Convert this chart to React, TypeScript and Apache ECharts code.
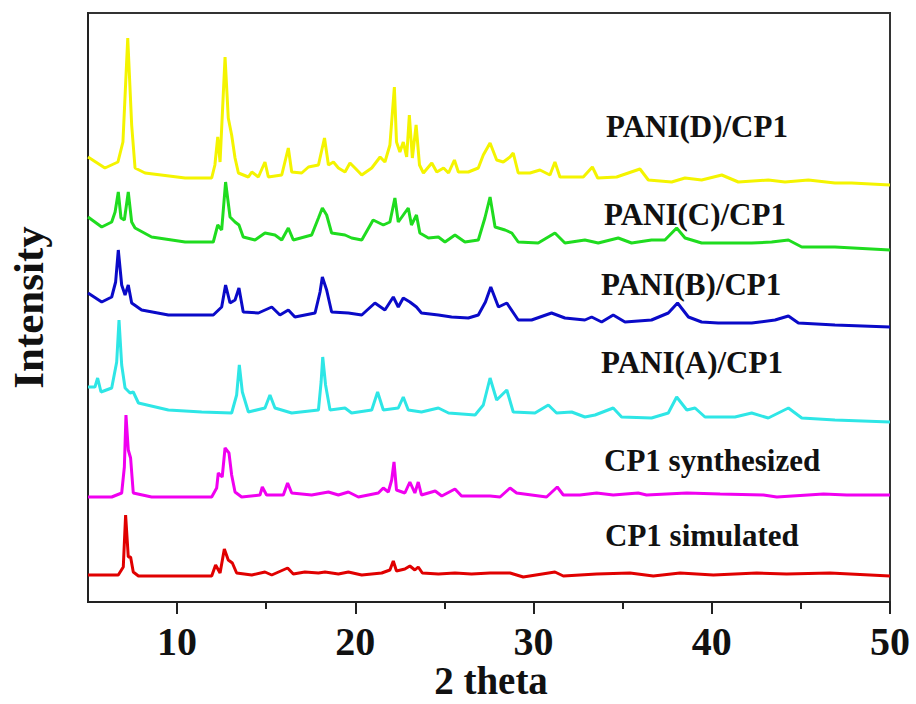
import React, { useEffect, useRef } from "react";
import * as echarts from "echarts";

const seriesNames = ["PANI(D)/CP1", "PANI(C)/CP1", "PANI(B)/CP1", "PANI(A)/CP1", "CP1 synthesized", "CP1 simulated"];
const seriesColors = ["#f4f400", "#1fdc1f", "#0a0ac8", "#2ee6e6", "#f000f0", "#e00000"];
const xTicks = [10, 20, 30, 40, 50];
const xTitle = "2 theta";
const yTitle = "Intensity";

const paniD = [
  [5.0,445],[5.95,434],[6.68,440],[6.96,460],[7.23,564],[7.45,477],[7.64,434],[8.2,429],[10.45,424],[11.94,424],[12.12,437],[12.28,465],[12.41,440],[12.69,545],[12.87,484],[13.06,467],[13.25,444],[13.44,429],[14.0,425],[14.19,430],[14.56,425],[14.93,440],[15.12,425],[15.87,427],[16.24,454],[16.43,430],[16.99,429],[17.37,435],[17.93,437],[18.27,464],[18.49,437],[18.77,440],[19.05,434],[19.42,430],[19.7,439],[19.98,434],[20.36,427],[20.92,434],[21.39,445],[21.66,440],[21.94,457],[22.19,515],[22.31,460],[22.5,450],[22.69,460],[22.88,445],[23.03,487],[23.2,444],[23.41,477],[23.6,437],[23.82,429],[24.29,439],[24.57,430],[24.95,434],[25.23,429],[25.56,442],[25.78,430],[26.34,430],[26.9,434],[27.18,447],[27.56,459],[27.93,442],[28.3,440],[28.68,445],[28.86,449],[29.14,429],[29.8,429],[30.36,432],[30.92,427],[31.2,440],[31.48,425],[32.79,425],[33.3,435],[33.6,424],[34.66,425],[35.97,433],[36.44,422],[37.75,420],[38.5,424],[39.43,422],[40.56,427],[41.49,420],[43.17,422],[44.11,420],[45.42,422],[46.91,419],[47.85,419],[50,417]
];
const paniC = [
  [5.0,385],[5.77,375],[6.33,380],[6.52,390],[6.7,410],[6.85,384],[7.04,382],[7.26,410],[7.45,380],[7.64,374],[8.57,365],[10.45,360],[12.03,360],[12.28,377],[12.5,372],[12.72,420],[12.97,385],[13.25,380],[13.47,377],[13.71,365],[14.37,362],[14.93,369],[15.49,367],[15.87,362],[16.24,374],[16.52,362],[17.55,367],[17.93,384],[18.15,394],[18.39,387],[18.67,369],[19.42,367],[19.79,364],[20.36,362],[21.0,382],[21.57,377],[21.94,380],[22.22,404],[22.41,380],[22.69,387],[22.97,394],[23.15,377],[23.43,387],[23.62,369],[24.1,364],[24.66,365],[25.03,360],[25.59,367],[26.15,360],[26.9,362],[27.27,384],[27.56,405],[27.84,375],[28.4,372],[28.78,369],[29.14,360],[30.26,359],[31.2,369],[31.76,359],[32.88,362],[33.63,359],[34.75,364],[35.5,359],[36.62,362],[37.37,362],[38.03,374],[38.5,364],[39.43,359],[40.75,359],[42.24,359],[43.36,360],[44.3,362],[45.05,355],[46.91,355],[50,352]
];
const paniB = [
  [5.0,309],[5.77,300],[6.33,305],[6.55,320],[6.7,352],[6.89,317],[7.08,307],[7.26,317],[7.45,299],[8.01,292],[9.51,287],[12.03,287],[12.5,295],[12.72,317],[12.97,299],[13.25,302],[13.47,314],[13.71,290],[14.56,289],[15.31,295],[15.77,287],[16.24,292],[16.61,285],[17.74,289],[18.02,310],[18.15,325],[18.39,312],[18.67,290],[19.61,289],[20.36,287],[21.1,299],[21.66,292],[22.13,305],[22.41,295],[22.69,304],[23.06,300],[23.43,295],[23.71,289],[24.66,287],[25.4,285],[26.34,284],[26.9,287],[27.3,300],[27.6,315],[28.03,295],[28.5,299],[29.14,282],[29.89,282],[31.01,289],[31.76,284],[32.88,282],[33.26,285],[33.82,280],[34.47,287],[35.13,280],[36.62,282],[37.56,289],[38.08,299],[38.69,285],[39.43,280],[40.36,279],[42.24,279],[43.55,282],[44.3,286],[44.86,279],[46.91,277],[50,275]
];
const paniA = [
  [5.0,215],[5.39,215],[5.54,224],[5.73,210],[6.33,214],[6.61,240],[6.74,282],[6.89,237],[7.08,214],[7.36,209],[7.54,210],[7.83,199],[9.51,192],[11.38,190],[13.06,189],[13.34,207],[13.49,237],[13.66,210],[14.0,190],[14.93,194],[15.21,207],[15.49,194],[16.43,189],[17.93,192],[18.08,220],[18.17,245],[18.33,217],[18.58,192],[19.42,194],[19.79,189],[20.92,192],[21.25,210],[21.57,192],[22.41,194],[22.69,205],[22.97,192],[23.71,190],[24.66,194],[25.23,189],[26.72,187],[27.18,197],[27.56,224],[27.93,202],[28.5,212],[28.86,190],[30.08,189],[30.83,197],[31.29,189],[32.14,190],[32.88,185],[33.45,187],[34.47,194],[34.94,185],[36.62,184],[37.56,189],[38.03,205],[38.6,192],[39.06,194],[39.62,185],[41.3,185],[42.24,189],[43.17,184],[44.3,194],[45.05,184],[46.91,182],[50,180]
];
const cp1Synth = [
  [5.0,105],[6.33,105],[6.89,109],[7.04,135],[7.13,187],[7.26,152],[7.39,144],[7.54,109],[8.57,105],[11.94,105],[12.22,114],[12.31,129],[12.53,125],[12.69,154],[12.91,149],[13.06,127],[13.25,110],[13.62,105],[14.65,107],[14.78,115],[15.02,107],[15.96,107],[16.2,119],[16.43,109],[17.55,107],[18.49,110],[19.05,107],[19.61,110],[20.17,105],[21.29,109],[21.57,114],[21.85,110],[22.04,122],[22.17,140],[22.31,112],[22.78,109],[23.06,120],[23.34,109],[23.53,120],[23.71,107],[24.48,111],[24.85,106],[25.59,113],[25.96,106],[27.56,106],[28.12,105],[28.68,114],[29.05,109],[30.73,105],[31.33,115],[31.67,107],[32.6,107],[33.54,109],[34.47,107],[35.87,109],[36.34,107],[38.6,109],[40.47,108],[42.9,107],[43.65,105],[46.27,108],[47.58,107],[50,107]
];
const cp1Sim = [
  [5.0,27],[6.7,27],[6.98,35],[7.11,87],[7.26,45],[7.39,45],[7.54,30],[7.83,26],[11.94,26],[12.16,37],[12.41,29],[12.65,53],[12.87,42],[13.1,39],[13.34,29],[14.19,27],[14.93,30],[15.31,27],[16.2,34],[16.52,28],[17.17,30],[17.93,29],[18.3,30],[19.05,28],[19.61,30],[20.36,27],[21.48,29],[21.94,32],[22.13,41],[22.31,31],[22.78,33],[23.06,36],[23.34,32],[23.53,35],[23.76,29],[24.66,28],[25.59,29],[26.52,28],[27.56,29],[28.68,29],[29.42,25],[31.2,30],[31.67,26],[33.54,28],[35.41,29],[36.72,26],[38.22,29],[40.09,27],[42.52,29],[44.2,28],[46.63,29],[50,26]
];

const allData = [paniD, paniC, paniB, paniA, cp1Synth, cp1Sim];
const labelPos = [
  [606, 126], [604, 214], [601, 284], [601, 362], [604, 460], [605, 535]
];

const FONT = '"Liberation Serif", "Times New Roman", serif';

export default function App() {
  const ref = useRef<HTMLDivElement>(null);
  useEffect(() => {
    document.body.style.margin = "0";
    const chart = echarts.init(ref.current!, null, { renderer: "svg" });
    const plotLeft = 88, plotRight = 26, plotW = 916 - plotLeft - plotRight;
    chart.setOption({
      animation: false,
      backgroundColor: "#ffffff",
      grid: [
        {
          left: plotLeft, right: plotRight, top: 13, bottom: 102,
          show: true, borderColor: "#333", borderWidth: 2,
          containLabel: false, outerBoundsMode: "none",
        },
        {
          left: plotLeft + plotW * 5 / 45, right: plotRight, top: 13, bottom: 102,
          show: false, containLabel: false, outerBoundsMode: "none",
        },
      ],
      xAxis: [
        {
          gridIndex: 0, type: "value", min: 5, max: 50, interval: 5,
          axisLine: { show: true, lineStyle: { color: "#222", width: 2 } },
          axisTick: { show: true, inside: false, length: 7, lineStyle: { color: "#222", width: 2 } },
          axisLabel: {
            margin: 19, fontFamily: FONT, fontWeight: "bold", fontSize: 40, color: "#111",
            showMinLabel: false, showMaxLabel: true,
            formatter: (v: number) => (xTicks.includes(v) ? String(v) : ""),
          },
          splitLine: { show: false },
        },
        {
          gridIndex: 1, type: "value", min: 10, max: 50, interval: 10,
          axisLine: { show: false },
          axisTick: { show: true, inside: false, length: 12, lineStyle: { color: "#222", width: 2 } },
          axisLabel: { show: false },
          splitLine: { show: false },
        },
      ],
      yAxis: [
        {
          gridIndex: 0, type: "value", min: 0, max: 589,
          name: yTitle, nameLocation: "middle", nameGap: 38,
          nameTextStyle: { fontFamily: FONT, fontWeight: "bold", fontSize: 43, color: "#111" },
          axisLine: { show: true, lineStyle: { color: "#222", width: 2 } },
          axisTick: { show: false },
          axisLabel: { show: false },
          splitLine: { show: false },
        },
        {
          gridIndex: 1, type: "value", min: 0, max: 589, show: false,
        },
      ],
      series: allData.map((d, i) => ({
        type: "line",
        name: seriesNames[i],
        xAxisIndex: 0,
        yAxisIndex: 0,
        data: d,
        showSymbol: false,
        symbol: "none",
        smooth: false,
        lineStyle: { color: seriesColors[i], width: 3 },
        z: 2 + i,
      })),
      graphic: [
        ...seriesNames.map((n, i) => ({
          type: "text",
          x: labelPos[i][0],
          y: labelPos[i][1],
          style: {
            text: n,
            fill: "#111",
            font: `bold 31px ${FONT}`,
            verticalAlign: "middle",
            align: "left",
          },
        })),
        {
          type: "text",
          x: 491,
          y: 680,
          style: {
            text: xTitle,
            fill: "#111",
            font: `bold 39px ${FONT}`,
            verticalAlign: "middle",
            align: "center",
          },
        },
      ],
    });
    return () => chart.dispose();
  }, []);
  return <div ref={ref} style={{ width: 916, height: 704 }} />;
}
